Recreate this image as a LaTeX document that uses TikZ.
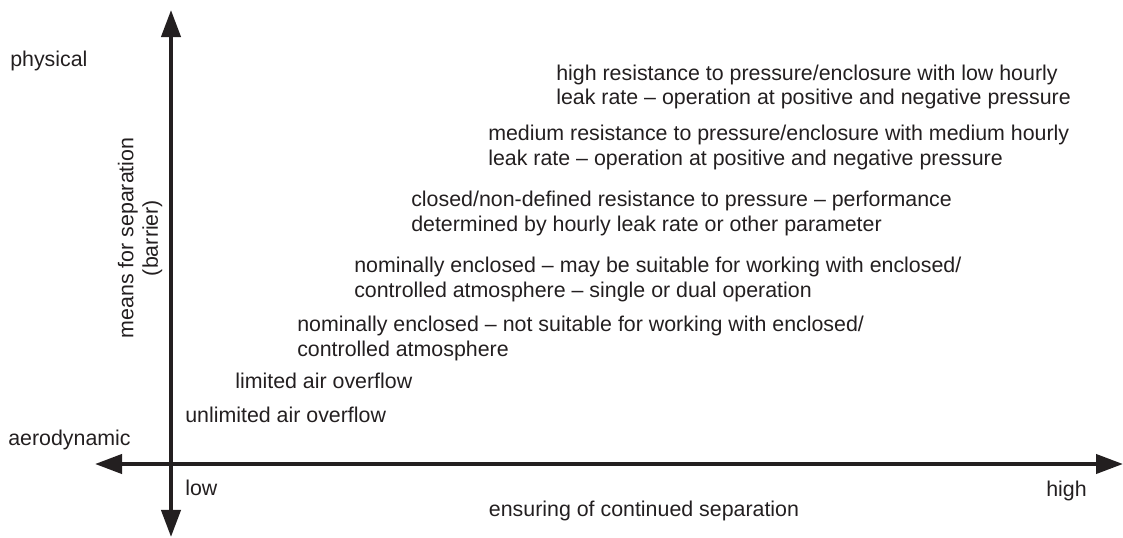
\documentclass[tikz,border=0pt]{standalone}
\usepackage{fontspec}
\setmainfont{Liberation Sans}
\usetikzlibrary{arrows.meta}
\definecolor{ink}{HTML}{231F20}
\tikzset{
  axis/.style={line width=2.85pt, draw=ink, {Triangle[length=6.75mm,width=4.75mm]}-{Triangle[length=6.75mm,width=4.75mm]}},
  lbl/.style={anchor=base west, inner sep=0pt, align=left, text=ink, font=\fontsize{15.2}{17.4}\selectfont},
}
\begin{document}
\begin{tikzpicture}[x=0.025cm,y=-0.025cm]
    \useasboundingbox (0,0) rectangle (1123,538);
    % axes
    \coordinate (west) at (95,464);
    \coordinate (east) at (1123,464);
    \coordinate (north) at (171,10);
    \coordinate (south) at (171,537);
    \draw[axis] (west) -- (east);
    \draw[axis] (south) -- (north);
    % axis labels
    \node[lbl] (phys) at (10,67) {physical};
    \node[lbl] (aero) at (8,445) {aerodynamic};
    \node[lbl] (low) at (185,495) {low};
    \node[lbl] (high) at (1046,496) {high};
    \node[lbl, anchor=base] (xlab) at (644,516) {ensuring of continued separation};
    \node[lbl, anchor=center, align=center, rotate=90] (ylab) at (140,238) {means for separation\\(barrier)};
    % levels (base = last line)
    \node[lbl] (lvl1) at (556,105) {high resistance to pressure/enclosure with low hourly\\leak rate – operation at positive and negative pressure};
    \node[lbl] (lvl2) at (488,165) {medium resistance to pressure/enclosure with medium hourly\\leak rate – operation at positive and negative pressure};
    \node[lbl] (lvl3) at (411,231) {closed/non-defined resistance to pressure – performance\\determined by hourly leak rate or other parameter};
    \node[lbl] (lvl4) at (354,297) {nominally enclosed – may be suitable for working with enclosed/\\controlled atmosphere – single or dual operation};
    \node[lbl] (lvl5) at (297,356) {nominally enclosed – not suitable for working with enclosed/\\controlled atmosphere};
    \node[lbl] (lvl6) at (235,388) {limited air overflow};
    \node[lbl] (lvl7) at (185,422) {unlimited air overflow};
\end{tikzpicture}
\end{document}
